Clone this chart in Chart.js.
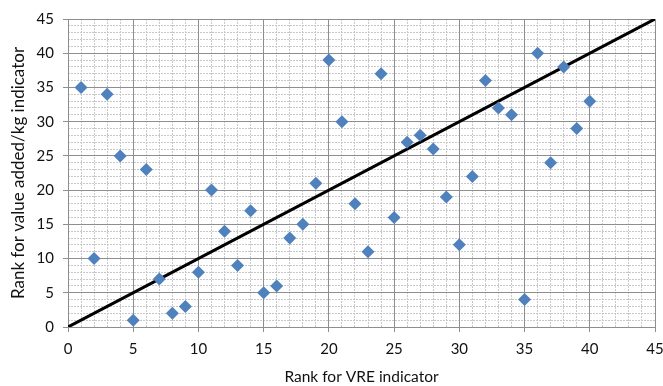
<!DOCTYPE html>
<html>
<head>
<meta charset="utf-8">
<script src="https://cdn.jsdelivr.net/npm/chart.js@4"></script>
<style>
html,body{margin:0;padding:0;background:#fff;}
#wrap{width:663px;height:386px;position:relative;}
</style>
</head>
<body>
<div id="wrap"><canvas id="c" width="663" height="386"></canvas></div>
<script>
const vreRank = [1,2,3,4,5,6,7,8,9,10,11,12,13,14,15,16,17,18,19,20,21,22,23,24,25,26,27,28,29,30,31,32,33,34,35,36,37,38,39,40];
const valueAddedRank = [35,10,34,25,1,23,7,2,3,8,20,14,9,17,5,6,13,15,21,39,30,18,11,37,16,27,28,26,19,12,22,36,32,31,4,40,24,38,29,33];
const lineX = [0,45];
const lineY = [0,45];
const xTitle = 'Rank for VRE indicator';
const yTitle = 'Rank for value added/kg indicator';

const pts = vreRank.map((x,i)=>({x:x,y:valueAddedRank[i]}));
const linePts = lineX.map((x,i)=>({x:x,y:lineY[i]}));

const FONT = 'Lato, "Open Sans", sans-serif';
const TXT = '#111111';
const MAJOR = '#8e8e8e';
const MINOR = '#c8c8c8';

new Chart(document.getElementById('c'), {
  type: 'scatter',
  data: {
    datasets: [
      {
        data: pts,
        pointStyle: 'rectRot',
        pointRadius: 6.5,
        pointHoverRadius: 6.5,
        backgroundColor: '#4F81BD',
        borderColor: '#4F81BD',
        borderWidth: 0,
        order: 1
      },
      {
        data: linePts,
        showLine: true,
        pointRadius: 0,
        borderColor: '#000000',
        borderWidth: 3,
        fill: false,
        order: 2
      }
    ]
  },
  options: {
    responsive: false,
    animation: false,
    layout: { padding: { top: 19, right: 8, left: 0, bottom: 0 } },
    plugins: { legend: { display: false }, tooltip: { enabled: false } },
    scales: {
      xm: {
        type: 'linear', position: 'bottom', min: 0, max: 45, z: -1,
        ticks: { display: false, stepSize: 1 },
        grid: { color: MINOR, drawTicks: false, lineWidth: 1 },
        border: { display: false, dash: [2, 1] },
        afterFit: s => { s.height = 0; s.paddingLeft = 0; s.paddingRight = 0; }
      },
      ym: {
        type: 'linear', position: 'left', min: 0, max: 45, z: -1,
        ticks: { display: false, stepSize: 1 },
        grid: { color: MINOR, drawTicks: false, lineWidth: 1 },
        border: { display: false, dash: [2, 1] },
        afterFit: s => { s.width = 0; s.paddingTop = 0; s.paddingBottom = 0; }
      },
      x: {
        type: 'linear', position: 'bottom', min: 0, max: 45,
        ticks: { stepSize: 5, color: TXT, font: { family: FONT, size: 15 }, padding: 8, maxRotation: 0 },
        grid: { color: MAJOR, lineWidth: 1, tickLength: 5, tickColor: MAJOR },
        border: { color: MAJOR, width: 1 },
        title: { display: true, text: xTitle, color: TXT, font: { family: FONT, size: 15.5 }, padding: { top: 6, bottom: 0 } },
        afterFit: s => { s.height = 59; s.paddingLeft = 0; s.paddingRight = 0; }
      },
      y: {
        type: 'linear', position: 'left', min: 0, max: 45,
        ticks: { stepSize: 5, color: TXT, font: { family: FONT, size: 15 }, padding: 9 },
        grid: { color: MAJOR, lineWidth: 1, tickLength: 5, tickColor: MAJOR },
        border: { color: MAJOR, width: 1 },
        title: { display: true, text: yTitle, color: TXT, font: { family: FONT, size: 17 }, padding: { top: 8, bottom: 4 } },
        afterFit: s => { s.width = 68; s.paddingTop = 0; s.paddingBottom = 0; }
      }
    }
  }
});
</script>
</body>
</html>
